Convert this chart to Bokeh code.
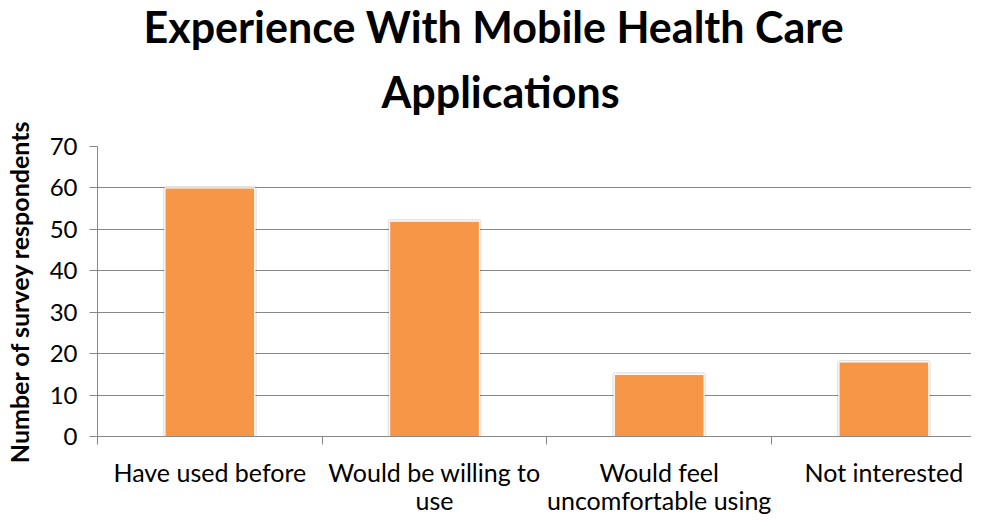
import numpy as np
from bokeh.plotting import figure
from bokeh.models import Range1d, FixedTicker, Title
from bokeh.embed import file_html
from bokeh.resources import INLINE

categories = ["Have used before", "Would be willing to\nuse", "Would feel\nuncomfortable using", "Not interested"]
respondents = [60, 52, 15, 18]
y_ticks = [0, 10, 20, 30, 40, 50, 60, 70]

FONT = "Lato"
GRID = "#878787"

n = len(categories)
centers = list(np.arange(n) + 0.5)
bounds = list(np.arange(n + 1).astype(float))

p = figure(width=971, height=518, output_backend="svg", toolbar_location=None,
           x_range=Range1d(0, 3.89), y_range=Range1d(0, 70),
           min_border_left=87, min_border_right=0, min_border_top=0, min_border_bottom=0)
p.outline_line_color = None

# bars with faint shadow edge
p.vbar(x=centers, top=respondents, width=0.4, bottom=0, fill_color=None,
       line_color="#000000", line_alpha=0.10, line_width=4)
p.vbar(x=centers, top=respondents, width=0.4, bottom=0, fill_color="#F79646",
       line_color="#FFFFFF", line_width=1.2)

p.xgrid.visible = False
p.ygrid.grid_line_color = GRID
p.ygrid.grid_line_width = 1
p.ygrid.ticker = FixedTicker(ticks=y_ticks)

yax = p.yaxis[0]
yax.ticker = FixedTicker(ticks=y_ticks)
yax.axis_line_color = GRID
yax.major_tick_line_color = GRID
yax.major_tick_out = 8
yax.major_tick_in = 0
yax.minor_tick_line_color = None
yax.major_label_text_font = FONT
yax.major_label_text_font_size = "24px"
yax.major_label_text_color = "#000000"
yax.major_label_standoff = 12
yax.axis_label = "Number of survey respondents"
yax.axis_label_text_font = FONT
yax.axis_label_text_font_size = "25px"
yax.axis_label_text_font_style = "bold"
yax.axis_label_text_color = "#000000"
yax.axis_label_standoff = 13

xax = p.xaxis[0]
xax.ticker = FixedTicker(ticks=centers, minor_ticks=bounds)
xax.major_label_overrides = {c: lab for c, lab in zip(centers, categories)}
xax.axis_line_color = GRID
xax.major_tick_line_color = None
xax.major_tick_out = 0
xax.major_tick_in = 0
xax.minor_tick_line_color = GRID
xax.minor_tick_out = 8
xax.minor_tick_in = 0
xax.major_label_text_font = FONT
xax.major_label_text_font_size = "25px"
xax.major_label_text_line_height = 0.95
xax.major_label_text_color = "#000000"
xax.major_label_standoff = 12

# spacer between title and plot area
p.add_layout(Title(text=" ", align="left", text_font=FONT, text_font_size="1px", standoff=13), "above")
p.add_layout(Title(text="Applications", align="left", text_font=FONT, text_font_size="43px",
                   text_font_style="bold", text_color="#000000", offset=284, standoff=27), "above")
p.add_layout(Title(text="Experience With Mobile Health Care", align="left", text_font=FONT,
                   text_font_size="43px", text_font_style="bold", text_color="#000000",
                   offset=46, standoff=-3), "above")

open("out.html", "w").write(file_html(p, INLINE))
